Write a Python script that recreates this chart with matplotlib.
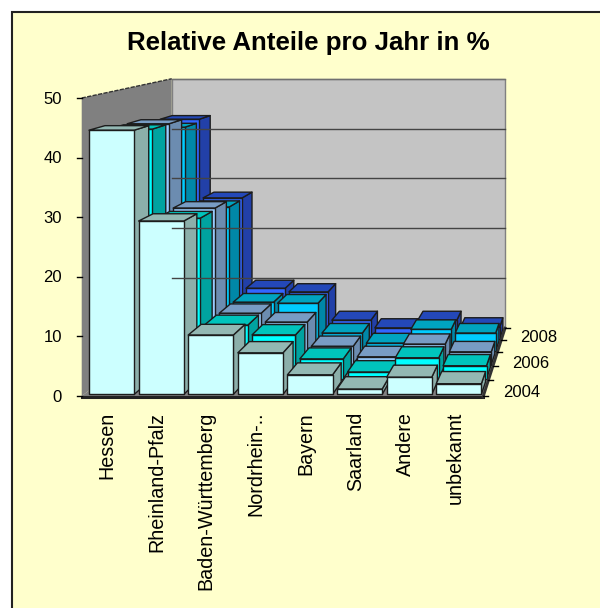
import matplotlib
matplotlib.use("Agg")
import matplotlib.pyplot as plt
from matplotlib.patches import Polygon, Rectangle

plt.rcParams['font.family'] = ['Liberation Sans', 'DejaVu Sans']

categories = ['Hessen', 'Rheinland-Pfalz', 'Baden-Württemberg', 'Nordrhein-..',
              'Bayern', 'Saarland', 'Andere', 'unbekannt']
years = [2004, 2005, 2006, 2007, 2008]
year_ticks = [2004, 2006, 2008]
value_ticks = [0, 10, 20, 30, 40, 50]

v2004 = [44.5, 29.2, 10.0, 7.0, 3.3, 0.9, 2.9, 1.8]
v2005 = [43.7, 28.1, 9.4, 7.7, 3.5, 1.2, 3.7, 2.3]
v2006 = [43.7, 28.4, 9.3, 7.7, 3.3, 1.4, 3.7, 2.3]
v2007 = [42.1, 27.1, 9.2, 9.0, 3.4, 1.5, 4.1, 3.4]
v2008 = [42.7, 27.4, 9.8, 9.1, 3.6, 2.1, 3.6, 2.3]
values = [v2004, v2005, v2006, v2007, v2008]

# front, side, top colours per year
colors = [('#CCFFFF', '#8CAFAA', '#93B8B3'),
          ('#00FFFF', '#00A3A0', '#00C4BC'),
          ('#99CCFF', '#6C8CB0', '#789CC4'),
          ('#00CCFF', '#0088A8', '#00A4C0'),
          ('#3366FF', '#2240A8', '#2448B8')]

# 3d box set up: vanishing point and front plane in figure pixels
VX, VY = 618, -20
X0, CAT_W = 84.7, 49.8
Y0, UNIT = 396, 5.96
K = 0.039
BAR_M = 0.045
ROW_M = 0.1


def proj(c, d, v):
    s = 1 / (1 + K * d)
    x = X0 + c * CAT_W
    y = Y0 - v * UNIT
    return (VX + (x - VX) * s, VY + (y - VY) * s)


fig = plt.figure(figsize=(6, 6.08), dpi=100)
ax = fig.add_axes([0, 0, 1, 1])
ax.set_xlim(0, 600)
ax.set_ylim(608, 0)
ax.axis('off')

ax.add_patch(Rectangle((11.5, 11.5), 600, 600, fc='#FFFFCC', ec='#222222', lw=1.5))
ax.text(308, 43, 'Relative Anteile pro Jahr in %', ha='center', va='center',
        fontsize=18.6, fontweight='bold', color='black')

n = len(categories)
depth = len(years)
vmax = value_ticks[-1]
wall_c = -0.06

# walls and floor
ax.add_patch(Polygon([proj(wall_c, 0, 0), proj(wall_c, 0, vmax), proj(0, depth, vmax), proj(0, depth, 0)],
                     fc='#808080', ec='none'))
ax.add_patch(Polygon([proj(0, depth, 0), proj(0, depth, vmax), proj(n, depth, vmax), proj(n, depth, 0)],
                     fc='#C4C4C4', ec='#808080', lw=1))
ax.add_patch(Polygon([proj(wall_c, 0, 0), proj(0, depth, 0), proj(n, depth, 0), proj(n, 0, 0)],
                     fc='#808080', ec='none'))
for v in value_ticks[1:]:
    p, q = proj(0, depth, v), proj(n, depth, v)
    ax.plot([p[0], q[0]], [p[1], q[1]], color='#444444' if v < vmax else '#707070', lw=1)
p, q = proj(wall_c, 0, vmax), proj(0, depth, vmax)
ax.plot([p[0], q[0]], [p[1], q[1]], color='#333333', lw=1, ls=(0, (3, 1)))

# bars, back row first and left to right so nearer ones cover the others
for r in range(depth - 1, -1, -1):
    d0, d1 = r + ROW_M, r + 1 - ROW_M
    front, side, top = colors[r]
    for c, v in enumerate(values[r]):
        c0, c1 = c + BAR_M, c + 1 - BAR_M
        ec = dict(ec='#1c1c1c', lw=1, joinstyle='round')
        ax.add_patch(Polygon([proj(c1, d0, 0), proj(c1, d1, 0), proj(c1, d1, v), proj(c1, d0, v)],
                             fc=side, **ec))
        ax.add_patch(Polygon([proj(c0, d0, v), proj(c0, d1, v), proj(c1, d1, v), proj(c1, d0, v)],
                             fc=top, **ec))
        ax.add_patch(Polygon([proj(c0, d0, 0), proj(c0, d0, v), proj(c1, d0, v), proj(c1, d0, 0)],
                             fc=front, **ec))

# front and right edge of the floor
p, q, e = proj(wall_c, 0, 0), proj(n, 0, 0), proj(n, depth, 0)
ax.plot([p[0], q[0]], [p[1] + 1, q[1] + 1], color='#222222', lw=2.2)
ax.plot([q[0], e[0]], [q[1] + 1, e[1]], color='#333333', lw=2)

# value axis
for v in value_ticks:
    x, y = proj(wall_c, 0, v)
    ax.plot([x - 5, x], [y, y], color='black', lw=1)
    ax.text(62, y + 1, str(v), ha='right', va='center', fontsize=12, color='black')

# depth axis
for d in range(depth + 1):
    x, y = proj(n, d, 0)
    ax.plot([x, x + 5], [y, y], color='black', lw=1)
for yr in year_ticks:
    x, y = proj(n, years.index(yr) + 0.5, 0)
    ax.text(x + 17, y + 4, str(yr), ha='left', va='center', fontsize=12, color='black')

# category labels
for c, name in enumerate(categories):
    x, y = proj(c + 0.5, 0, 0)
    ax.text(x - 3, 412, name, rotation=90, ha='center', va='top', fontsize=14.2, color='black')

fig.savefig('out.png', dpi=100)
